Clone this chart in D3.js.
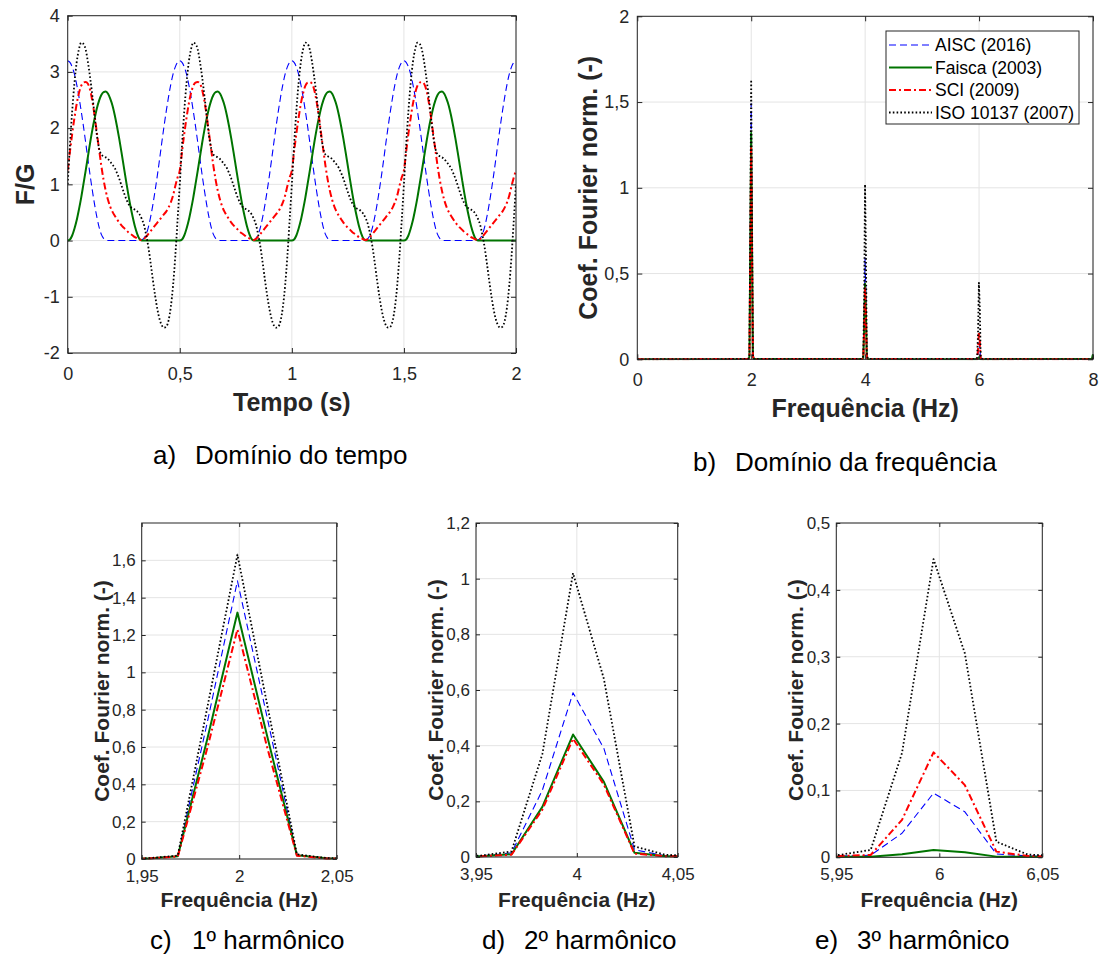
<!DOCTYPE html>
<html><head><meta charset="utf-8">
<script src="https://cdn.jsdelivr.net/npm/d3@7"></script>
<style>body{margin:0;background:#fff} svg{display:block}</style>
</head><body><svg id="chart" width="1102" height="962"></svg>
<script>
// ---------------- DATA ----------------
const seriesNames = ["AISC (2016)", "Faisca (2003)", "SCI (2009)", "ISO 10137 (2007)"];

// Time domain: one period (0.5 s) sampled every 0.01 s, repeated 4 times (0..2 s)
const timeStep = 0.01;
const numPeriods = 4;
const aiscPeriod = [3.20,3.17,3.09,2.96,2.78,2.56,2.31,2.04,1.75,1.45,1.16,0.89,0.64,0.42,0.24,0.11,0.04,0.01,
  0,0,0,0,0,0,0,0,0,0,0,0,0,0,0,
  0.01,0.04,0.11,0.24,0.42,0.64,0.89,1.16,1.45,1.75,2.04,2.31,2.56,2.78,2.96,3.09,3.17];
const faiscaPeriod = [0,0.02,0.09,0.21,0.36,0.55,0.76,1.00,1.24,1.49,1.74,1.97,2.17,2.35,2.49,2.59,2.64,2.65,
  2.61,2.52,2.40,2.23,2.03,1.81,1.57,1.32,1.07,0.83,0.61,0.42,0.25,0.12,0.03,0,
  0,0,0,0,0,0,0,0,0,0,0,0,0,0,0,0];
const sciPeriod = [1.25,1.58,1.90,2.18,2.43,2.62,2.75,2.81,2.82,2.79,
  2.68,2.48,2.22,1.92,1.62,1.33,1.08,0.88,0.72,0.60,
  0.51,0.44,0.38,0.32,0.27,0.23,0.19,0.15,0.12,0.09,
  0.06,0.04,0.02,0.01,0.03,0.07,0.12,0.17,0.22,0.27,
  0.32,0.37,0.42,0.47,0.52,0.59,0.68,0.80,0.97,1.12];
const isoPeriod = [1.00,1.70,2.30,2.80,3.17,3.40,3.52,3.50,3.40,3.18,
  2.90,2.58,2.22,1.88,1.64,1.53,1.50,1.48,1.45,1.40,
  1.35,1.29,1.20,1.10,0.98,0.86,0.75,0.66,0.60,0.57,
  0.55,0.52,0.47,0.39,0.28,0.10,-0.12,-0.40,-0.70,-0.98,
  -1.22,-1.40,-1.51,-1.55,-1.53,-1.42,-1.18,-0.80,-0.28,0.35];

// Frequency domain: spectral lines around each harmonic (Hz) and normalised coefficients
const freqH1 = [1.9380,1.9533,1.9685,1.9838,1.9991,2.0143,2.0296,2.0448,2.0601];
const aiscH1   = [0.002,0.003,0.015,0.74,1.49,0.76,0.020,0.004,0.002];
const faiscaH1 = [0.002,0.003,0.015,0.65,1.32,0.66,0.020,0.004,0.002];
const sciH1    = [0.002,0.003,0.013,0.60,1.23,0.60,0.018,0.003,0.002];
const isoH1    = [0.002,0.004,0.018,0.82,1.63,0.83,0.025,0.005,0.002];

const freqH2 = [3.9371,3.9523,3.9676,3.9829,3.9981,4.0134,4.0286,4.0439,4.0592];
const aiscH2   = [0.002,0.003,0.015,0.24,0.59,0.39,0.026,0.004,0.002];
const faiscaH2 = [0.002,0.003,0.010,0.18,0.44,0.27,0.015,0.003,0.002];
const sciH2    = [0.002,0.003,0.008,0.17,0.425,0.26,0.012,0.003,0.002];
const isoH2    = [0.003,0.005,0.020,0.37,1.02,0.64,0.038,0.008,0.003];

const freqH3 = [5.9361,5.9514,5.9667,5.9819,5.9972,6.0124,6.0277,6.0430,6.0582];
const aiscH3   = [0.001,0.002,0.003,0.036,0.096,0.068,0.005,0.002,0.001];
const faiscaH3 = [0.001,0.001,0.001,0.0045,0.011,0.0075,0.001,0.001,0.001];
const sciH3    = [0.001,0.002,0.0035,0.056,0.157,0.108,0.0085,0.002,0.001];
const isoH3    = [0.002,0.0035,0.011,0.156,0.446,0.305,0.0234,0.004,0.002];

const freqH4 = [7.9810,7.9962,8.0115];
const aiscH4   = [0.001,0.004,0.001];
const faiscaH4 = [0.003,0.025,0.003];
const sciH4    = [0.001,0.003,0.001];
const isoH4    = [0.001,0.005,0.001];

// Tick labels
const ticksAx = [0,0.5,1,1.5,2];
const ticksAy = [-2,-1,0,1,2,3,4];
const ticksBx = [0,2,4,6,8];
const ticksBy = [0,0.5,1,1.5,2];
const ticksCx = [1.95,2,2.05];
const ticksCy = [0,0.2,0.4,0.6,0.8,1,1.2,1.4,1.6];
const ticksDx = [3.95,4,4.05];
const ticksDy = [0,0.2,0.4,0.6,0.8,1,1.2];
const ticksEx = [5.95,6,6.05];
const ticksEy = [0,0.1,0.2,0.3,0.4,0.5];

// ---------------- DRAWING ----------------
const FONT = '"Liberation Sans", Arial, Helvetica, sans-serif';
const AXIS_COLOR = "#262626";
const GRID_COLOR = "#e4e4e4";
const styles = [
  {color:"#0000ff", width:1.1, dash:"7,4"},
  {color:"#007400", width:2, dash:null},
  {color:"#ff0000", width:2, dash:"7,3,2,3"},
  {color:"#000000", width:1.8, dash:"1.6,2.2"}
];

const svg = d3.select("#chart");
svg.append("rect").attr("width",1102).attr("height",962).attr("fill","#fff");
const defs = svg.append("defs");

function fmt(d){ return String(+(+d).toFixed(3)).replace(".", ","); }

function tile(period){
  const out = [];
  for(let p=0;p<numPeriods;p++) period.forEach(v=>out.push(v));
  out.push(period[0]);
  return out;
}
const timeAxis = d3.range(numPeriods*aiscPeriod.length+1).map(i=>+(i*timeStep).toFixed(4));

function panel(cfg){
  const x = d3.scaleLinear().domain(cfg.xDomain).range([cfg.x0,cfg.x1]);
  const y = d3.scaleLinear().domain(cfg.yDomain).range([cfg.y1,cfg.y0]);
  const g = svg.append("g");
  const cid = "clip"+cfg.id;
  defs.append("clipPath").attr("id",cid).append("rect")
    .attr("x",cfg.x0).attr("y",cfg.y0-2).attr("width",cfg.x1-cfg.x0).attr("height",cfg.y1-cfg.y0+3);
  // grid
  g.append("g").selectAll("line").data(cfg.xTicks).join("line")
    .attr("x1",d=>x(d)).attr("x2",d=>x(d)).attr("y1",cfg.y0).attr("y2",cfg.y1)
    .attr("stroke",GRID_COLOR).attr("stroke-width",1);
  g.append("g").selectAll("line").data(cfg.yTicks).join("line")
    .attr("y1",d=>y(d)).attr("y2",d=>y(d)).attr("x1",cfg.x0).attr("x2",cfg.x1)
    .attr("stroke",GRID_COLOR).attr("stroke-width",1);
  // series
  const line = d3.line().x(d=>x(d[0])).y(d=>y(d[1])).curve(cfg.curve || d3.curveLinear);
  const sg = g.append("g").attr("clip-path",`url(#${cid})`);
  cfg.series.forEach((s,i)=>{
    const st = styles[i];
    sg.append("path").datum(d3.zip(s.x,s.y)).attr("d",line)
      .attr("fill","none").attr("stroke",st.color).attr("stroke-width",st.width)
      .attr("stroke-dasharray",st.dash).attr("stroke-linejoin","round");
  });
  // axes
  const tl = cfg.tickLen;
  function style(ax){
    ax.select(".domain").remove();
    ax.attr("font-family",FONT).attr("font-size",cfg.fs);
    ax.selectAll("text").attr("fill",AXIS_COLOR);
    ax.selectAll("line").attr("stroke",AXIS_COLOR);
  }
  g.append("g").attr("transform",`translate(0,${cfg.y1})`)
    .call(d3.axisBottom(x).tickValues(cfg.xTicks).tickFormat(fmt).tickSize(-tl).tickSizeOuter(0).tickPadding(cfg.padX)).call(style);
  g.append("g").attr("transform",`translate(0,${cfg.y0})`)
    .call(d3.axisTop(x).tickValues(cfg.xTicks).tickFormat("").tickSize(-tl).tickSizeOuter(0)).call(style);
  g.append("g").attr("transform",`translate(${cfg.x0},0)`)
    .call(d3.axisLeft(y).tickValues(cfg.yTicks).tickFormat(fmt).tickSize(-tl).tickSizeOuter(0).tickPadding(cfg.padY)).call(style);
  g.append("g").attr("transform",`translate(${cfg.x1},0)`)
    .call(d3.axisRight(y).tickValues(cfg.yTicks).tickFormat("").tickSize(-tl).tickSizeOuter(0)).call(style);
  // box
  g.append("rect").attr("x",cfg.x0).attr("y",cfg.y0).attr("width",cfg.x1-cfg.x0).attr("height",cfg.y1-cfg.y0)
    .attr("fill","none").attr("stroke",AXIS_COLOR).attr("stroke-width",1);
  // titles
  g.append("text").attr("x",(cfg.x0+cfg.x1)/2).attr("y",cfg.xTitleY).attr("text-anchor","middle")
    .attr("font-family",FONT).attr("font-weight","bold").attr("font-size",cfg.tfs).attr("fill",AXIS_COLOR).text(cfg.xTitle);
  g.append("text").attr("transform",`translate(${cfg.yTitleX},${(cfg.y0+cfg.y1)/2}) rotate(-90)`).attr("text-anchor","middle")
    .attr("font-family",FONT).attr("font-weight","bold").attr("font-size",cfg.tfs).attr("fill",AXIS_COLOR).text(cfg.yTitle);
  // caption
  if(cfg.caption){
    const c = cfg.caption;
    svg.append("text").attr("x",c.x).attr("y",c.y).attr("font-family",FONT).attr("font-size",26).attr("fill","#000").text(c.label);
    svg.append("text").attr("x",c.x+42).attr("y",c.y).attr("font-family",FONT).attr("font-size",26).attr("fill","#000").text(c.text);
  }
  return {x,y,g};
}

// Panel a: time domain
panel({id:"a", x0:67.7, x1:516, y0:15.7, y1:353, xDomain:[0,2], yDomain:[-2,4],
  xTicks:ticksAx, yTicks:ticksAy, fs:18, tickLen:5, padX:14, padY:8,
  curve:d3.curveMonotoneX,
  series:[aiscPeriod,faiscaPeriod,sciPeriod,isoPeriod].map(p=>({x:timeAxis,y:tile(p)})),
  xTitle:"Tempo (s)", xTitleY:411, yTitle:"F/G", yTitleX:34, tfs:25,
  caption:{x:153, y:464, label:"a)", text:"Domínio do tempo"}});

// Panel b: frequency domain
const freqB = [0].concat(freqH1,freqH2,freqH3,freqH4);
panel({id:"b", x0:637.3, x1:1093, y0:16.3, y1:359.3, xDomain:[0,8], yDomain:[0,2],
  xTicks:ticksBx, yTicks:ticksBy, fs:18, tickLen:5, padX:14, padY:8,
  series:[
    {x:freqB, y:[0].concat(aiscH1,aiscH2,aiscH3,aiscH4)},
    {x:freqB, y:[0].concat(faiscaH1,faiscaH2,faiscaH3,faiscaH4)},
    {x:freqB, y:[0].concat(sciH1,sciH2,sciH3,sciH4)},
    {x:freqB, y:[0].concat(isoH1,isoH2,isoH3,isoH4)}],
  xTitle:"Frequência (Hz)", xTitleY:417, yTitle:"Coef. Fourier norm. (-)", yTitleX:597, tfs:25,
  caption:{x:693, y:471, label:"b)", text:"Domínio da frequência"}});

// Legend (panel b)
const lg = svg.append("g");
lg.append("rect").attr("x",886).attr("y",31).attr("width",193).attr("height",93)
  .attr("fill","#fff").attr("stroke",AXIS_COLOR).attr("stroke-width",1);
seriesNames.forEach((n,i)=>{
  const cy = 45 + i*22.5;
  const st = styles[i];
  lg.append("line").attr("x1",889).attr("x2",932).attr("y1",cy).attr("y2",cy)
    .attr("stroke",st.color).attr("stroke-width",st.width).attr("stroke-dasharray",st.dash);
  lg.append("text").attr("x",935).attr("y",cy+6).attr("font-family",FONT).attr("font-size",17.5).attr("fill","#000").text(n);
});

// Panels c, d, e: harmonics zoom
const harmonics = [
  {id:"c", x0:141.7, x1:336.7, y1:859, xDomain:[1.95,2.05], yDomain:[0,1.8], xTicks:ticksCx, yTicks:ticksCy,
   f:freqH1, s:[aiscH1,faiscaH1,sciH1,isoH1], yTitleX:109, cap:{x:150,label:"c)",text:"1º harmônico"}},
  {id:"d", x0:476, x1:677.7, y1:857, xDomain:[3.95,4.05], yDomain:[0,1.2], xTicks:ticksDx, yTicks:ticksDy,
   f:freqH2, s:[aiscH2,faiscaH2,sciH2,isoH2], yTitleX:443, cap:{x:482,label:"d)",text:"2º harmônico"}},
  {id:"e", x0:836.3, x1:1042.3, y1:857.3, xDomain:[5.95,6.05], yDomain:[0,0.5], xTicks:ticksEx, yTicks:ticksEy,
   f:freqH3, s:[aiscH3,faiscaH3,sciH3,isoH3], yTitleX:803, cap:{x:815,label:"e)",text:"3º harmônico"}}
];
harmonics.forEach(h=>{
  panel({id:h.id, x0:h.x0, x1:h.x1, y0:523, y1:h.y1, xDomain:h.xDomain, yDomain:h.yDomain,
    xTicks:h.xTicks, yTicks:h.yTicks, fs:17, tickLen:4, padX:11, padY:6,
    series:h.s.map(v=>({x:h.f, y:v})),
    xTitle:"Frequência (Hz)", xTitleY:907, yTitle:"Coef. Fourier norm. (-)", yTitleX:h.yTitleX, tfs:21,
    caption:{x:h.cap.x, y:949, label:h.cap.label, text:h.cap.text}});
});
</script></body></html>
